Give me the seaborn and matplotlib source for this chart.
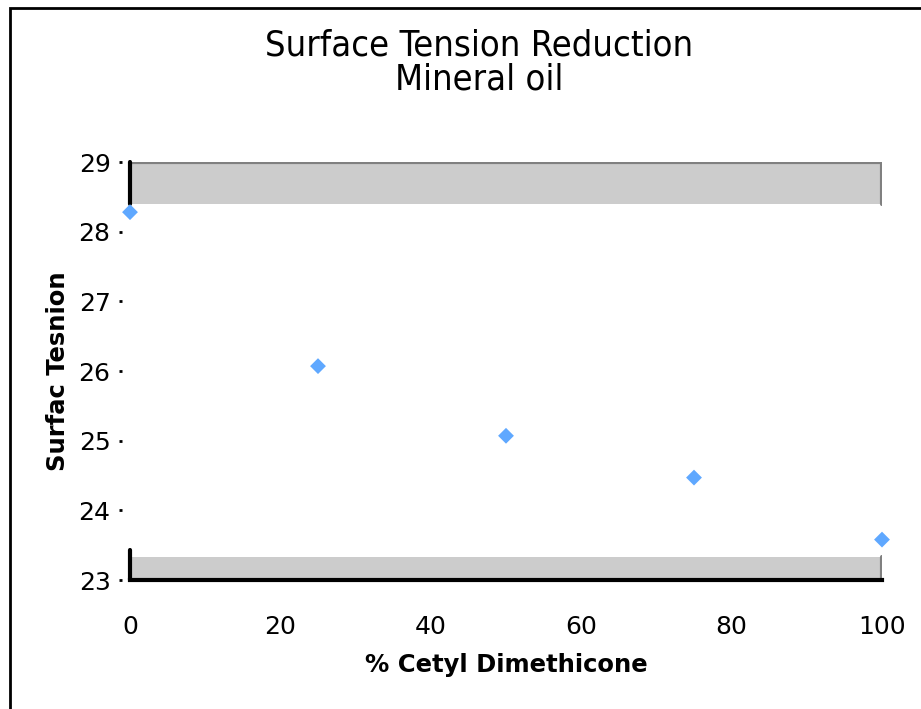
import matplotlib
matplotlib.use("Agg")
import matplotlib.pyplot as plt
import seaborn as sns
import pandas as pd
from matplotlib.patches import Rectangle
from matplotlib import font_manager

pct_cetyl = [0, 25, 50, 75, 100]
surface_tension = [28.28, 26.07, 25.07, 24.47, 23.58]
x_ticks = [0, 20, 40, 60, 80, 100]
y_ticks = [23, 24, 25, 26, 27, 28, 29]

df = pd.DataFrame({"pct": pct_cetyl, "st": surface_tension})

sns.set_style("white")
plt.rcParams['font.family'] = ['DejaVu Sans']
plt.rcParams['text.color'] = 'black'
plt.rcParams['axes.labelcolor'] = 'black'
plt.rcParams['xtick.color'] = 'black'
plt.rcParams['ytick.color'] = 'black'

names = {f.name for f in font_manager.fontManager.ttflist}
title_family = "Liberation Sans Narrow" if "Liberation Sans Narrow" in names else "DejaVu Sans"
title_size = 27 if title_family == "Liberation Sans Narrow" else 26

fig = plt.figure(figsize=(9.21, 7.09), dpi=100)
ax = fig.add_axes([130/921, 1-580/709, (882-130)/921, (580-162)/709])

for s in ["top", "right", "left"]:
    ax.spines[s].set_visible(False)
ax.spines["left"].set_position(("outward", 6))

# grey bands
ax.axhspan(28.4, 29, xmin=0, xmax=1, facecolor="#cccccc", edgecolor="none", zorder=0)
ax.axhspan(23, 23.33, xmin=0, xmax=1, facecolor="#cccccc", edgecolor="none", zorder=0)
ax.axhline(29, color="#808080", lw=3, zorder=1)
ax.axvline(100, ymin=(28.4-23)/6, ymax=1, color="#808080", lw=3, zorder=1)
ax.axvline(100, ymin=0, ymax=0.33/6, color="#808080", lw=3, zorder=1)
# black partial left axis
ax.axvline(0, ymin=(28.4-23)/6, ymax=1, color="black", lw=3, zorder=2, clip_on=False)
ax.axvline(0, ymin=0, ymax=0.43/6, color="black", lw=3, zorder=2, clip_on=False)

sns.scatterplot(data=df, x="pct", y="st", marker="D", s=65, color="#5fa8ff",
                edgecolor="none", ax=ax, zorder=5, clip_on=False)

ax.set_xlim(0, 100)
ax.set_ylim(23, 29)
ax.set_xticks(x_ticks)
ax.set_yticks(y_ticks)
ax.set_xticklabels([str(v) for v in x_ticks], fontsize=18)
ax.set_yticklabels([str(v) for v in y_ticks], fontsize=18)

ax.spines["bottom"].set_linewidth(3)
ax.spines["bottom"].set_color("black")
ax.tick_params(axis="x", direction="out", length=5, width=3, color="black", pad=20)
ax.tick_params(axis="y", direction="out", length=2, width=2, color="black", pad=6, left=True)
ax.patch.set_alpha(0)

ax.set_xlabel("% Cetyl Dimethicone", fontsize=17.5, fontweight="bold", labelpad=10)
ax.set_ylabel("Surfac Tesnion", fontsize=17.5, fontweight="bold", labelpad=6)

fig.text(479/921, 1-45/709, "Surface Tension Reduction", ha="center", va="center",
         fontsize=title_size, family=[title_family], stretch="condensed")
fig.text(479/921, 1-80/709, "Mineral oil", ha="center", va="center",
         fontsize=title_size, family=[title_family], stretch="condensed")

fig.patches.append(Rectangle((10/921, -0.1), 1.2, 1.1 - 8/709, transform=fig.transFigure,
                             fill=False, edgecolor="black", lw=2, zorder=10))

fig.savefig("out.png", dpi=100)
